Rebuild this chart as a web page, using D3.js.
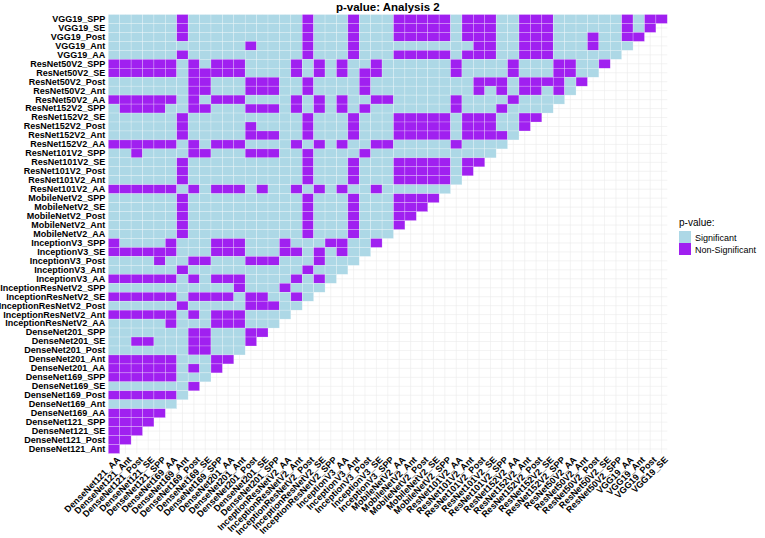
<!DOCTYPE html>
<html><head><meta charset="utf-8">
<script src="https://cdn.jsdelivr.net/npm/d3@7"></script>
<style>
body{margin:0;background:#fff;}
text{font-family:"Liberation Sans",Arial,sans-serif;}
</style>
</head><body>
<svg id="chart" width="765" height="538"></svg>
<script>
// x-axis categories (left to right)
const xLabels = [
"DenseNet121_AA","DenseNet121_Ant","DenseNet121_Post","DenseNet121_SE","DenseNet121_SPP",
"DenseNet169_AA","DenseNet169_Ant","DenseNet169_Post","DenseNet169_SE","DenseNet169_SPP",
"DenseNet201_AA","DenseNet201_Ant","DenseNet201_Post","DenseNet201_SE","DenseNet201_SPP",
"InceptionResNetV2_AA","InceptionResNetV2_Ant","InceptionResNetV2_Post","InceptionResNetV2_SE","InceptionResNetV2_SPP",
"InceptionV3_AA","InceptionV3_Ant","InceptionV3_Post","InceptionV3_SE","InceptionV3_SPP",
"MobileNetV2_AA","MobileNetV2_Ant","MobileNetV2_Post","MobileNetV2_SE","MobileNetV2_SPP",
"ResNet101V2_AA","ResNet101V2_Ant","ResNet101V2_Post","ResNet101V2_SE","ResNet101V2_SPP",
"ResNet152V2_AA","ResNet152V2_Ant","ResNet152V2_Post","ResNet152V2_SE","ResNet152V2_SPP",
"ResNet50V2_AA","ResNet50V2_Ant","ResNet50V2_Post","ResNet50V2_SE","ResNet50V2_SPP",
"VGG19_AA","VGG19_Ant","VGG19_Post","VGG19_SE"];

// y-axis categories (top to bottom)
const yLabels = [
"VGG19_SPP","VGG19_SE","VGG19_Post","VGG19_Ant","VGG19_AA",
"ResNet50V2_SPP","ResNet50V2_SE","ResNet50V2_Post","ResNet50V2_Ant","ResNet50V2_AA",
"ResNet152V2_SPP","ResNet152V2_SE","ResNet152V2_Post","ResNet152V2_Ant","ResNet152V2_AA",
"ResNet101V2_SPP","ResNet101V2_SE","ResNet101V2_Post","ResNet101V2_Ant","ResNet101V2_AA",
"MobileNetV2_SPP","MobileNetV2_SE","MobileNetV2_Post","MobileNetV2_Ant","MobileNetV2_AA",
"InceptionV3_SPP","InceptionV3_SE","InceptionV3_Post","InceptionV3_Ant","InceptionV3_AA",
"InceptionResNetV2_SPP","InceptionResNetV2_SE","InceptionResNetV2_Post","InceptionResNetV2_Ant","InceptionResNetV2_AA",
"DenseNet201_SPP","DenseNet201_SE","DenseNet201_Post","DenseNet201_Ant","DenseNet201_AA",
"DenseNet169_SPP","DenseNet169_SE","DenseNet169_Post","DenseNet169_Ant","DenseNet169_AA",
"DenseNet121_SPP","DenseNet121_SE","DenseNet121_Post","DenseNet121_Ant"];

// For each y row (same order as yLabels): indices of x categories whose p-value is Non-Significant.
// All other cells of the lower triangle are Significant.
const nonSignificant = [
[6,17,21,25,26,27,28,29,31,32,33,36,37,38,45,47,48],
[6,17,21,25,26,27,28,29,31,32,33,36,37,38,45,47],
[6,17,21,25,26,27,28,29,31,32,33,36,37,38,42,45,46],
[12,17,21,32,33,36,37,38,42],
[6,17,21,25,26,27,28,29,31,32,33,36,37,38],
[0,1,2,3,4,5,7,9,10,11,16,18,20,23,30,35,39,40,43],
[0,1,2,3,4,5,7,8,9,10,11,16,18,20,22,23,30,35,39,40],
[7,8,12,13,14,17,22,32,33,34,36,37,38,39,41],
[7,8,12,13,14,17,22,32,34,36,37,39],
[0,1,2,3,4,5,7,9,10,11,16,18,20,23,24,30,35],
[1,2,3,4,7,8,12,13,14,16,18,20,22,30,34],
[6,17,21,25,26,27,28,29,31,32,33,36,37],
[6,12,17,21,25,26,27,28,29,31,32,33,36],
[6,12,13,14,17,21,25,26,27,28,29,31,32,33,34],
[0,1,2,3,4,5,7,9,10,11,16,18,20,23,24,30],
[2,7,8,12,13,14,17,22],
[6,17,21,25,26,27,28,29,31,32],
[6,17,21,25,26,27,28,29,31],
[6,17,21,25,26,27,28,29],
[0,1,2,3,4,5,7,9,10,11,13,16,18,20,23],
[6,17,21,25,26,27,28],
[6,17,21,25,26,27],
[6,17,21,25,26],
[6,17,21,25],
[6,17,21],
[0,5,9,10,11,15,19,20,23],
[0,1,2,3,4,5,9,10,11,15,16,18,20],
[4,7,8,12,13,14,18],
[6,17],
[0,1,2,3,4,5,7,9,10,11,16,18],
[11,15],
[0,1,2,3,4,5,7,8,9,10,12,13,16],
[6,12,13,14],
[0,1,2,3,4,5,7,9,10,11],
[5,9,10,11],
[7,8,12,13],
[2,3,7,8,12],
[7,8],
[0,1,2,3,4,5,9,10],
[0,1,2,3,4,5,7,9],
[0,1,2,3,4,5],
[7],
[0,1,2,3,4,5],
[],
[0,1,2,3,4],
[0,1,2,3],
[0,1,2],
[0,1],
[0]
];

const legendLabels = ["Significant","Non-Significant"];
const legendColors = ["#ADD8E6","#A020F0"];

const svg = d3.select("#chart");
const plot = {left:108.3, right:667.3, top:14.5, bottom:453.5};

const x = d3.scaleBand().domain(xLabels).range([plot.left, plot.right]).padding(0);
const y = d3.scaleBand().domain(yLabels).range([plot.top, plot.bottom]).padding(0);
const color = d3.scaleOrdinal().domain(legendLabels).range(legendColors);

// background grid (theme_minimal style)
const grid = svg.append("g");
grid.selectAll("line.v").data(xLabels).join("line")
  .attr("x1", d => x(d) + x.bandwidth()/2).attr("x2", d => x(d) + x.bandwidth()/2)
  .attr("y1", plot.top).attr("y2", plot.bottom)
  .attr("stroke", "#ebebeb").attr("stroke-width", 0.6);
grid.selectAll("line.h").data(yLabels).join("line")
  .attr("y1", d => y(d) + y.bandwidth()/2).attr("y2", d => y(d) + y.bandwidth()/2)
  .attr("x1", plot.left).attr("x2", plot.right)
  .attr("stroke", "#ebebeb").attr("stroke-width", 0.6);

// cells
const cells = [];
yLabels.forEach((yl, r) => {
  const ns = new Set(nonSignificant[r]);
  for (let c = 0; c < xLabels.length - r; c++) {
    cells.push({x: xLabels[c], y: yl, v: ns.has(c) ? "Non-Significant" : "Significant"});
  }
});
svg.append("g").selectAll("rect").data(cells).join("rect")
  .attr("x", d => x(d.x)).attr("y", d => y(d.y))
  .attr("width", x.bandwidth()).attr("height", y.bandwidth())
  .attr("fill", d => color(d.v))
  .attr("stroke", "#ffffff").attr("stroke-opacity", 0.45).attr("stroke-width", 0.5);

// y axis
const gy = svg.append("g").attr("transform", `translate(${plot.left},0)`)
  .call(d3.axisLeft(y).tickSize(0).tickPadding(3));
gy.select(".domain").remove();
gy.selectAll("text").attr("font-size", 9).attr("font-weight", "bold")
  .attr("fill", "#000").style("font-family", '"Liberation Sans",Arial,sans-serif');

// x axis
const gx = svg.append("g").attr("transform", `translate(0,${plot.bottom})`)
  .call(d3.axisBottom(x).tickSize(0).tickPadding(0));
gx.select(".domain").remove();
gx.selectAll("text").attr("font-size", 9).attr("font-weight", "bold")
  .attr("fill", "#000").style("font-family", '"Liberation Sans",Arial,sans-serif')
  .attr("text-anchor", "end").attr("x", 0).attr("y", 0).attr("dy", "0.6em")
  .attr("transform", "translate(3,3) rotate(-45)");

// title
svg.append("text").attr("x", (plot.left + plot.right)/2).attr("y", 10.5)
  .attr("text-anchor", "middle").attr("font-size", 11.5).attr("font-weight", "bold")
  .text("p-value: Analysis 2");

// legend
const lg = svg.append("g").attr("transform", "translate(679,0)");
lg.append("text").attr("x", 0).attr("y", 226).attr("font-size", 10).text("p-value:");
legendLabels.forEach((l, i) => {
  lg.append("rect").attr("x", 0).attr("y", 231 + i*12).attr("width", 12).attr("height", 12)
    .attr("fill", color(l));
  lg.append("text").attr("x", 16).attr("y", 240.5 + i*12).attr("font-size", 9).text(l);
});
</script>
</body></html>
